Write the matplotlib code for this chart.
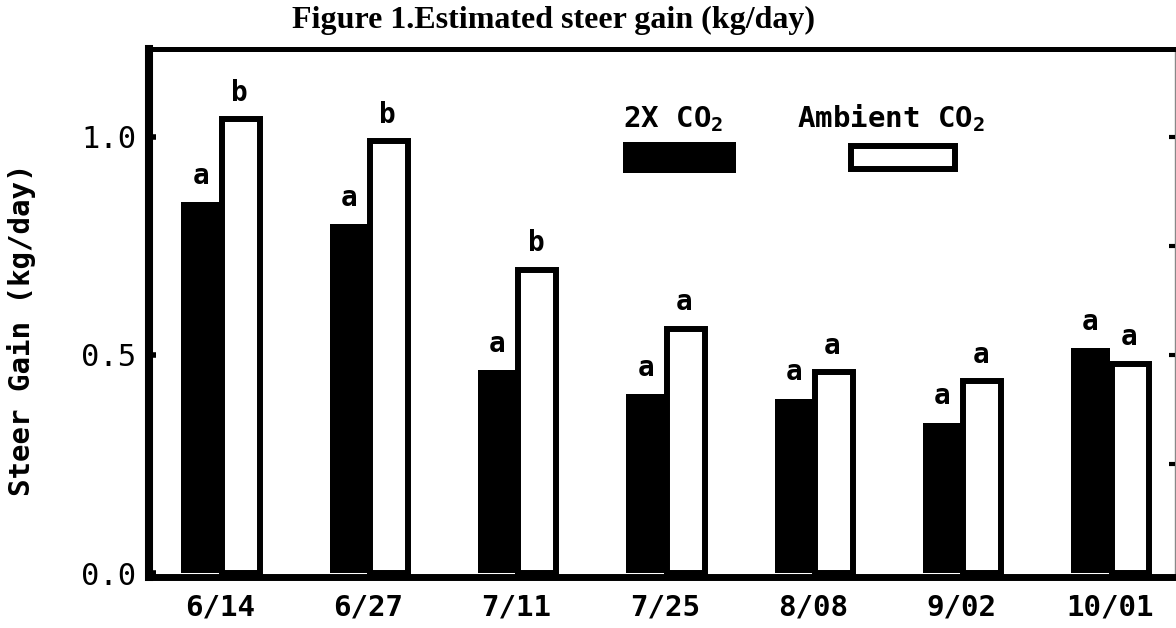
import matplotlib
matplotlib.use('Agg')
import matplotlib.pyplot as plt
from matplotlib.patches import Rectangle
import numpy as np

# Datos
fechas = ['6/14', '6/27', '7/11', '7/25', '8/08', '9/02', '10/01']
co2_doble = [0.85, 0.80, 0.465, 0.41, 0.40, 0.345, 0.515]
co2_ambiente = [1.04, 0.99, 0.695, 0.56, 0.46, 0.44, 0.48]
letras_doble = ['a', 'a', 'a', 'a', 'a', 'a', 'a']
letras_ambiente = ['b', 'b', 'b', 'a', 'a', 'a', 'a']

plt.rcParams['mathtext.default'] = 'regular'
mono = 'DejaVu Sans Mono'

fig = plt.figure(figsize=(11.76, 6.28), dpi=100)
ax = fig.add_axes([0.1267, 0.0812, 0.8725, 0.84])

x = np.arange(len(fechas))
ancho = 0.26

ax.bar(x - ancho / 2, co2_doble, ancho, color='black', edgecolor='black', linewidth=0)
ax.bar(x + ancho / 2 + 0.01, co2_ambiente, ancho - 0.005, color='white', edgecolor='black', linewidth=4.3)

# Letras de significancia
for i in range(len(fechas)):
    ax.annotate(letras_doble[i], (x[i] - ancho / 2, co2_doble[i]), xytext=(0, 9),
                textcoords='offset points', ha='center', va='bottom',
                fontsize=20, fontweight='bold', family=mono)
    ax.annotate(letras_ambiente[i], (x[i] + ancho / 2, co2_ambiente[i]), xytext=(0, 9),
                textcoords='offset points', ha='center', va='bottom',
                fontsize=20, fontweight='bold', family=mono)

ax.set_xlim(-0.479, 6.44)
ax.set_ylim(-0.009, 1.2)

ax.set_xticks(x)
ax.set_xticklabels(fechas, fontsize=21, fontweight='bold', family=mono)
ax.tick_params(axis='x', length=0, pad=12)

ax.set_yticks([0.0, 0.5, 1.0])
ax.set_yticklabels(['0.0', '0.5', '1.0'], fontsize=22, family=mono)
ax.tick_params(axis='y', direction='in', length=5, width=4, pad=9)

ax.set_ylabel('Steer Gain (kg/day)', fontsize=21, fontweight='bold', family=mono, va='center')
ax.yaxis.set_label_coords(-0.124, 0.469)

# Bordes
ax.spines['left'].set_linewidth(5.8)
ax.spines['bottom'].set_linewidth(5.0)
ax.spines['top'].set_linewidth(3.6)
ax.spines['right'].set_linewidth(1.0)
ax.spines['right'].set_color('#888888')

# Marcas del lado derecho
ax2 = ax.twinx()
ax2.set_ylim(ax.get_ylim())
ax2.set_yticks([0.25, 0.5, 0.75, 1.0])
ax2.set_yticklabels([])
ax2.tick_params(axis='y', direction='in', length=4, width=3)
for s in ax2.spines.values():
    s.set_visible(False)

# Leyenda dibujada a mano
ax.add_patch(Rectangle((0.462, 0.765), 0.110, 0.0588, transform=ax.transAxes,
                       facecolor='black', edgecolor='black', linewidth=0))
ax.add_patch(Rectangle((0.684, 0.774), 0.102, 0.0436, transform=ax.transAxes,
                       facecolor='white', edgecolor='black', linewidth=4.3))
ax.text(0.462, 0.852, '2X CO$_2$', transform=ax.transAxes, fontsize=21,
        fontweight='bold', family=mono, va='baseline', ha='left')
ax.text(0.632, 0.852, 'Ambient CO$_2$', transform=ax.transAxes, fontsize=21,
        fontweight='bold', family=mono, va='baseline', ha='left')

fig.text(554 / 1176, 1 - 20 / 628, 'Figure 1.Estimated steer gain (kg/day)',
         fontsize=23, fontweight='bold', family='Liberation Serif', ha='center', va='center')

fig.savefig('out.png', dpi=100)
